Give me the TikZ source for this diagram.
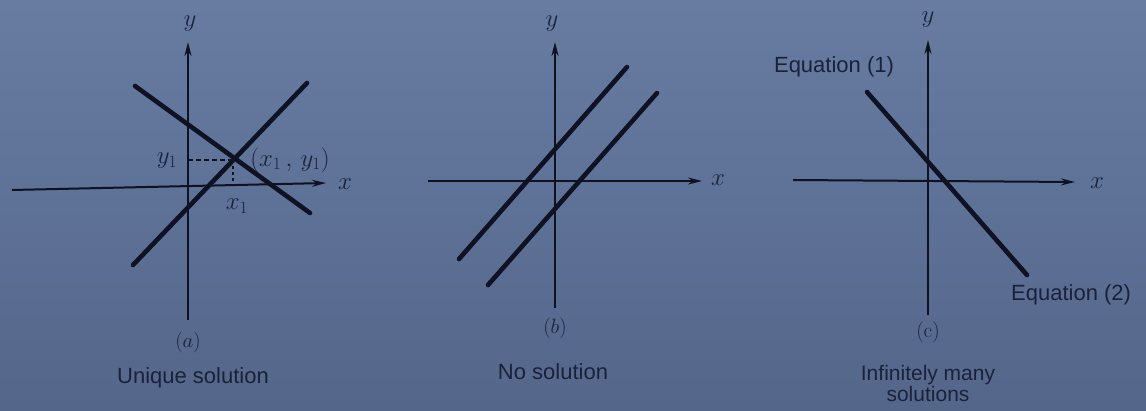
\documentclass[tikz,border=0pt]{standalone}
\usepackage{fontspec}
\setsansfont{Liberation Sans}
\usetikzlibrary{arrows.meta}
\definecolor{bgtop}{RGB}{104,124,162}
\definecolor{bgbot}{RGB}{84,102,138}
\definecolor{ink}{RGB}{14,18,34}
\definecolor{tink}{RGB}{26,34,58}
\begin{document}
\begin{tikzpicture}[x=1pt,y=-1pt,
  axis/.style={ink,line width=2pt,-{Stealth[length=14pt,width=7pt]}},
  graphline/.style={ink,line width=4.6pt,line cap=round},
  lab/.style={text=tink,font=\sffamily\fontsize{22}{26}\selectfont,inner sep=0pt},
  mlab/.style={text=tink,font=\fontsize{24}{28}\selectfont,inner sep=0pt},
  clab/.style={text=tink,font=\fontsize{21}{24}\selectfont,inner sep=0pt}]
\shade[top color=bgtop,bottom color=bgbot] (0,0) rectangle (1146,410);
\useasboundingbox (0,0) rectangle (1146,410);
% ---------- panel (a)
\coordinate (ayb) at (188,320); \coordinate (ayt) at (188,42);
\coordinate (axl) at (12,190); \coordinate (axr) at (326,183);
\draw[axis] (ayb) -- (ayt);
\draw[axis] (axl) -- (axr);
\coordinate (a1s) at (135,86); \coordinate (a1e) at (310,213);
\coordinate (a2s) at (133,265); \coordinate (a2e) at (307,83);
\draw[graphline] (a1s) -- (a1e);
\draw[graphline] (a2s) -- (a2e);
\coordinate (P) at (233,160);
\coordinate (Py) at (188,160); \coordinate (Px) at (233,185);
\draw[ink,line width=1.2pt,dash pattern=on 5pt off 3pt] (Py) -- (P);
\draw[ink,line width=1.2pt,dash pattern=on 3pt off 3pt] (P) -- (Px);
\node[mlab] (aylab) at (190,24) {$y$};
\node[mlab] (axlab) at (345,184) {$x$};
\node[mlab] (y1) at (167,161) {$y_1$};
\node[mlab] (pt) at (290,160) {$(x_1\,,\,y_1)$};
\node[mlab] (x1) at (237,206) {$x_1$};
\node[clab] (alab) at (188,342) {$(a)$};
\node[lab] (acap) at (193,378) {Unique solution};
% ---------- panel (b)
\coordinate (byb) at (555,308); \coordinate (byt) at (555,42);
\coordinate (bxl) at (428,181); \coordinate (bxr) at (702,181);
\draw[axis] (byb) -- (byt);
\draw[axis] (bxl) -- (bxr);
\coordinate (b1s) at (459,259); \coordinate (b1e) at (627,67);
\coordinate (b2s) at (488,285); \coordinate (b2e) at (657,93);
\draw[graphline] (b1s) -- (b1e);
\draw[graphline] (b2s) -- (b2e);
\node[mlab] (bylab) at (552,24) {$y$};
\node[mlab] (bxlab) at (718,180) {$x$};
\node[clab] (blab) at (555,328) {$(b)$};
\node[lab] (bcap) at (553,372) {No solution};
% ---------- panel (c)
\coordinate (cyb) at (928,315); \coordinate (cyt) at (928,40);
\coordinate (cxl) at (793,180); \coordinate (cxr) at (1075,182);
\draw[axis] (cyb) -- (cyt);
\draw[axis] (cxl) -- (cxr);
\coordinate (c1s) at (867,92); \coordinate (c1e) at (1027,275);
\draw[graphline] (c1s) -- (c1e);
\node[mlab] (cylab) at (928,20) {$y$};
\node[mlab] (cxlab) at (1097,183) {$x$};
\node[lab] (eq1) at (834,67) {Equation (1)};
\node[lab,anchor=west] (eq2) at (1011,295) {Equation (2)};
\node[clab] (clab) at (928,332) {(c)};
\node[lab,align=center,font=\sffamily\fontsize{21}{21}\selectfont] (ccap) at (928,383) {Infinitely many\\solutions};
\end{tikzpicture}
\end{document}
